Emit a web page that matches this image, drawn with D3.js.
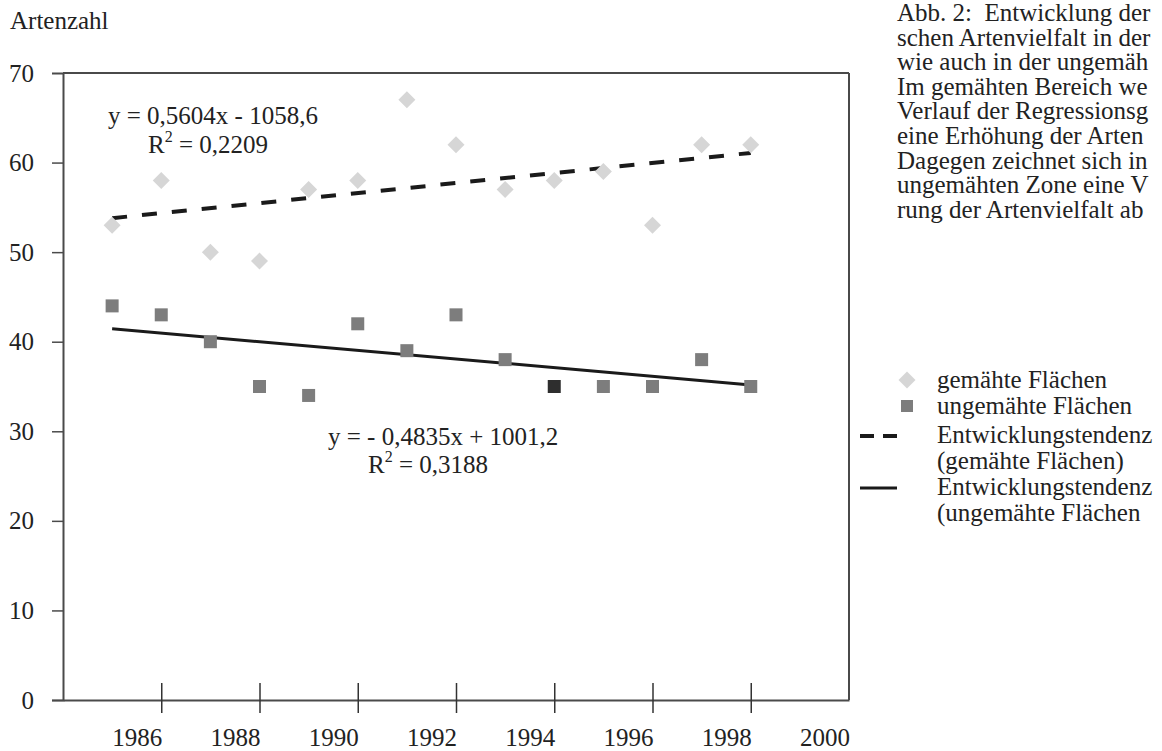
<!DOCTYPE html>
<html><head><meta charset="utf-8">
<script src="https://cdn.jsdelivr.net/npm/d3@7"></script>
<style>
html,body{margin:0;padding:0;background:#fff;overflow:hidden;}
svg{display:block;font-family:"Liberation Serif","Times New Roman",serif;}
</style></head>
<body>
<svg id="c" width="1162" height="751"></svg>
<script>
const years = [1985,1986,1987,1988,1989,1990,1991,1992,1993,1994,1995,1996,1997,1998];
const gemaeht = [53,58,50,49,57,58,67,62,57,58,59,53,62,62];
const ungemaeht = [44,43,40,35,34,42,39,43,38,35,35,35,38,35];
const xTicks = [1986,1988,1990,1992,1994,1996,1998];
const xLabels = [1986,1988,1990,1992,1994,1996,1998,2000];
const yTicks = [0,10,20,30,40,50,60,70];
const trendGem = {slope:0.5604, intercept:-1058.6};
const trendUng = {slope:-0.4835, intercept:1001.2};
const eqGem = ["y = 0,5604x - 1058,6", "0,2209"];
const eqUng = ["y = - 0,4835x + 1001,2", "0,3188"];
const caption = ["Abb. 2:\u00A0 Entwicklung der","schen Artenvielfalt in der","wie auch in der ungemäh","Im gemähten Bereich we","Verlauf der Regressionsg","eine Erhöhung der Arten","Dagegen zeichnet sich in","ungemähten Zone eine V","rung der Artenvielfalt ab"];
const legendItems = ["gemähte Flächen","ungemähte Flächen","Entwicklungstendenz","(gemähte Flächen)","Entwicklungstendenz","(ungemähte Flächen"];

const svg = d3.select("#c");
const FS = 25;
const x = d3.scaleLinear().domain([1984,2000]).range([63,849]);
const y = d3.scaleLinear().domain([0,70]).range([700,73]);
const axisCol = "#4a4a4a";

// frame (top + right)
svg.append("line").attr("x1",x(1984)).attr("x2",x(2000)).attr("y1",y(70)).attr("y2",y(70)).attr("stroke",axisCol).attr("stroke-width",2);
svg.append("line").attr("x1",x(2000)).attr("x2",x(2000)).attr("y1",y(70)).attr("y2",y(0)).attr("stroke",axisCol).attr("stroke-width",2);

// y axis
const yAxis = d3.axisLeft(y).tickValues(yTicks).tickSize(11).tickPadding(18).tickFormat(d=>d);
const gy = svg.append("g").attr("transform",`translate(${x(1984)},0)`).call(yAxis);
gy.select(".domain").attr("stroke",axisCol).attr("stroke-width",2);
gy.selectAll(".tick line").attr("stroke",axisCol).attr("stroke-width",1.5).attr("opacity",d=>d===70?0:1);
gy.selectAll(".tick text").attr("font-size",FS).attr("fill","#222").attr("font-family","Liberation Serif");

// x axis
const xAxis = d3.axisBottom(x).tickValues(xTicks).tickSize(0).tickFormat("");
const gx = svg.append("g").attr("transform",`translate(0,${y(0)})`).call(xAxis);
gx.select(".domain").attr("stroke",axisCol).attr("stroke-width",2);
gx.selectAll(".tick line").remove();
gx.selectAll(".tick").append("line").attr("y1",-17).attr("y2",13).attr("stroke","#333").attr("stroke-width",1.5);
svg.append("g").selectAll("text").data(xLabels).join("text")
  .attr("x",d=>x(d)-24).attr("y",746).attr("text-anchor","middle")
  .attr("font-size",FS).attr("fill","#222").text(d=>d);

// axis title
svg.append("text").attr("x",10).attr("y",29).attr("font-size",FS).attr("fill","#222").text("Artenzahl");

// trend lines
const tLine = (t)=> d3.line().x(d=>x(d)).y(d=>y(t.slope*d+t.intercept));
const ends = [years[0], years[years.length-1]];
svg.append("path").attr("d",tLine(trendGem)(ends)).attr("fill","none").attr("stroke","#1a1a1a").attr("stroke-width",4).attr("stroke-dasharray","15,15");
svg.append("path").attr("d",tLine(trendUng)(ends)).attr("fill","none").attr("stroke","#1a1a1a").attr("stroke-width",3);

// markers
const D = 8.5;
const diamondPath = `M0,${-D}L${D},0L0,${D}L${-D},0Z`;
svg.append("g").selectAll("path").data(years).join("path")
  .attr("transform",(d,i)=>`translate(${x(d)},${y(gemaeht[i])})`)
  .attr("d",diamondPath).attr("fill","#d6d6d6");
svg.append("g").selectAll("rect").data(years).join("rect")
  .attr("x",d=>x(d)-6.5).attr("y",(d,i)=>y(ungemaeht[i])-6.5).attr("width",13).attr("height",13)
  .attr("fill",d=>d===1994?"#2e2e2e":"#7d7d7d");

// equations
function eq(lines, x0, yb, rx, rb){
  svg.append("text").attr("x",x0).attr("y",yb).attr("font-size",FS).attr("fill","#222").text(lines[0]);
  const t = svg.append("text").attr("x",rx).attr("y",rb).attr("font-size",FS).attr("fill","#222");
  t.append("tspan").text("R");
  t.append("tspan").attr("dy",-11).attr("font-size",16).text("2");
  t.append("tspan").attr("dy",11).text(" = "+lines[1]);
}
eq(eqGem, 108, 124, 148, 153);
eq(eqUng, 328, 445, 368, 473);

// caption
svg.append("g").selectAll("text").data(caption).join("text")
  .attr("x",897).attr("y",(d,i)=>21+i*24.6).attr("font-size",25).attr("fill","#222").text(d=>d);

// legend
const lgX = 937, lgY = [388,414,443,469,495,521];
svg.append("g").selectAll("text").data(legendItems).join("text")
  .attr("x",lgX).attr("y",(d,i)=>lgY[i]).attr("font-size",25).attr("fill","#222").text(d=>d);
svg.append("path").attr("transform",`translate(907,${lgY[0]-8})`).attr("d",diamondPath).attr("fill","#d6d6d6");
svg.append("rect").attr("x",901).attr("y",lgY[1]-14).attr("width",12).attr("height",12).attr("fill","#7d7d7d");
svg.append("line").attr("x1",860).attr("x2",897).attr("y1",lgY[2]-7).attr("y2",lgY[2]-7).attr("stroke","#1a1a1a").attr("stroke-width",4).attr("stroke-dasharray","14,9");
svg.append("line").attr("x1",860).attr("x2",897).attr("y1",lgY[4]-7).attr("y2",lgY[4]-7).attr("stroke","#1a1a1a").attr("stroke-width",3);
</script>
</body></html>
